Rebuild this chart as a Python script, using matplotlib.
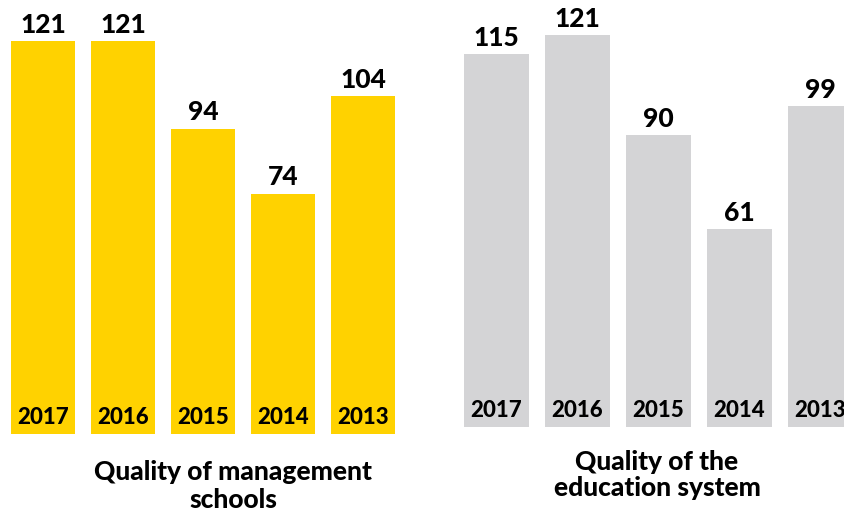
import matplotlib as mpl
import matplotlib.pyplot as plt

mpl.rcParams['font.family'] = ['Lato', 'DejaVu Sans']
mpl.rcParams['font.weight'] = 'bold'

# Data
years = ['2017', '2016', '2015', '2014', '2013']
mgmt_schools = [121, 121, 94, 74, 104]
edu_system = [115, 121, 90, 61, 99]
titles = ['Quality of management\nschools', 'Quality of the\neducation system']

YELLOW = '#FFD200'
GRAY = '#D4D4D6'

fig = plt.figure(figsize=(8.45, 5.16), dpi=100)
W, H = 845, 516

# axes placed in pixel terms: (left px, bottom px, width px, height px)
panels = [
    (mgmt_schools, YELLOW, (3, 434, 400, 422.5)),
    (edu_system, GRAY, (456, 427, 405, 421.2)),
]

for vals, color, (lx, by, wpx, hpx) in panels:
    ax = fig.add_axes([lx / W, 1 - by / H, wpx / W, hpx / H])
    pos = range(len(vals))
    bars = ax.bar(pos, vals, width=0.8, color=color)
    ax.set_xlim(-0.5, 4.5)
    ax.set_ylim(0, 130)
    ax.axis('off')
    for b, v, yr in zip(bars, vals, years):
        cx = b.get_x() + b.get_width() / 2
        ax.annotate(str(v), (cx, v), xytext=(0, 3), textcoords='offset points',
                    ha='center', va='bottom', fontsize=19, fontweight='black')
        ax.text(cx, 5.2, yr, ha='center', va='center', fontsize=16, fontweight='black')

fig.text(233 / W, 1 - 486 / H, titles[0], ha='center', va='center',
         fontsize=19, fontweight='black', linespacing=1.15)
fig.text(657 / W, 1 - 475 / H, titles[1], ha='center', va='center',
         fontsize=19, fontweight='black', linespacing=1.15)

fig.savefig('out.png', dpi=100)
